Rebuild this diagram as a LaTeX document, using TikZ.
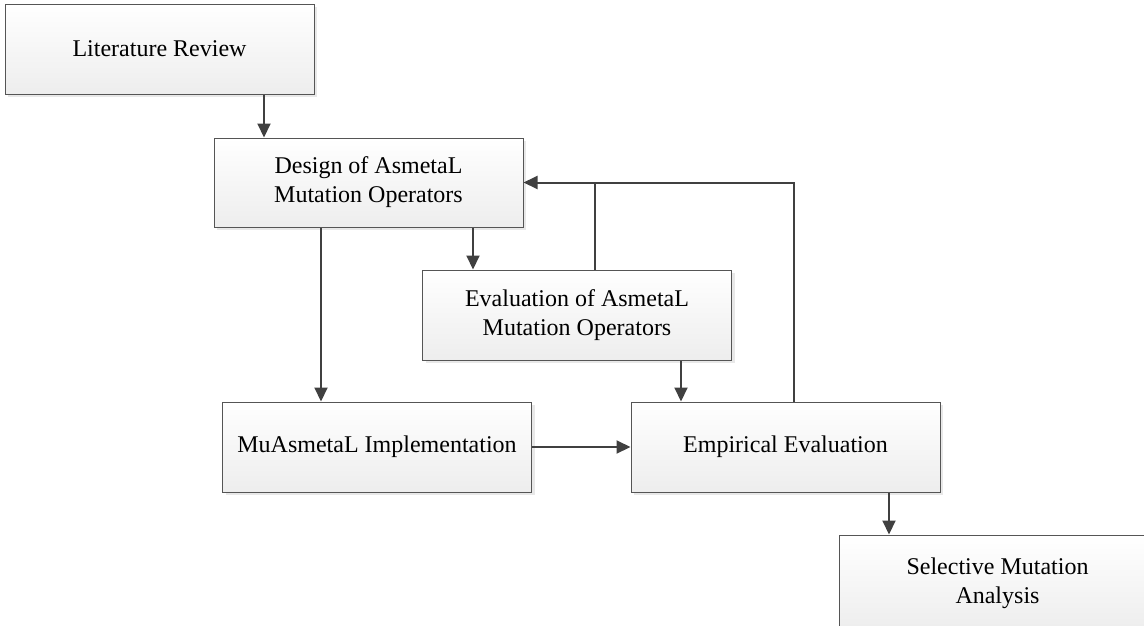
\documentclass[tikz,border=0pt]{standalone}
\usepackage{fontspec}
\setmainfont{Liberation Serif}
\usetikzlibrary{arrows.meta,shadows}
\definecolor{linegray}{HTML}{404040}
\definecolor{edgegray}{HTML}{555555}
\begin{document}
\begin{tikzpicture}[x=1pt,y=-1pt,
  stepbox/.style={rectangle, draw=edgegray, line width=1pt, inner sep=0pt,
    minimum width=309pt, minimum height=90pt,
    top color=white, bottom color=black!7,
    drop shadow={shadow xshift=3pt, shadow yshift=-3pt, fill=black!9, opacity=1},
    align=center, font=\fontsize{24}{29}\selectfont},
  link/.style={draw=linegray, line width=2pt,
    -{Triangle[length=14pt,width=13pt]}},
  plain/.style={draw=linegray, line width=2pt}]
\useasboundingbox (0,0) rectangle (1144,625);
\clip (0,0) rectangle (1144,625);

\node[stepbox] (lit)    at (159.5,49)  {Literature Review};
\node[stepbox, minimum height=89pt] (design) at (368.5,182.5) {Design of AsmetaL\\Mutation Operators};
\node[stepbox] (evalop) at (577,315)   {Evaluation of AsmetaL\\Mutation Operators};
\node[stepbox] (mu)     at (377,447)   {MuAsmetaL Implementation};
\node[stepbox] (emp)    at (785.5,447) {Empirical Evaluation};
% this box runs past the right and bottom edges
\node[stepbox, minimum width=317pt, minimum height=96pt] (sel) at (997.5,583) {Selective Mutation\\Analysis};

% attachment points along box edges
\coordinate (litOut)    at ([xshift=104.5pt]lit.south);
\coordinate (designL)   at ([xshift=-47.5pt]design.south);
\coordinate (designR)   at ([xshift=104.5pt]design.south);
\coordinate (evalOut)   at ([xshift=104pt]evalop.south);
\coordinate (evalUp)    at ([xshift=18pt]evalop.north);
\coordinate (empUp)     at ([xshift=8.5pt]emp.north);
\coordinate (empOut)    at ([xshift=103.5pt]emp.south);
\coordinate (joint)     at (evalUp |- design.east);

\draw[link] (litOut) -- (litOut |- design.north);
\draw[link] (designL) -- (designL |- mu.north);
\draw[link] (designR) -- (designR |- evalop.north);
\draw[link] (evalOut) -- (evalOut |- emp.north);
\draw[link] (mu.east) -- (emp.west);
\draw[link] (empOut) -- (empOut |- sel.north);
\draw[link] (empUp) -- (empUp |- design.east) -- (design.east);
\draw[plain] (evalUp) -- (joint);
\end{tikzpicture}
\end{document}
